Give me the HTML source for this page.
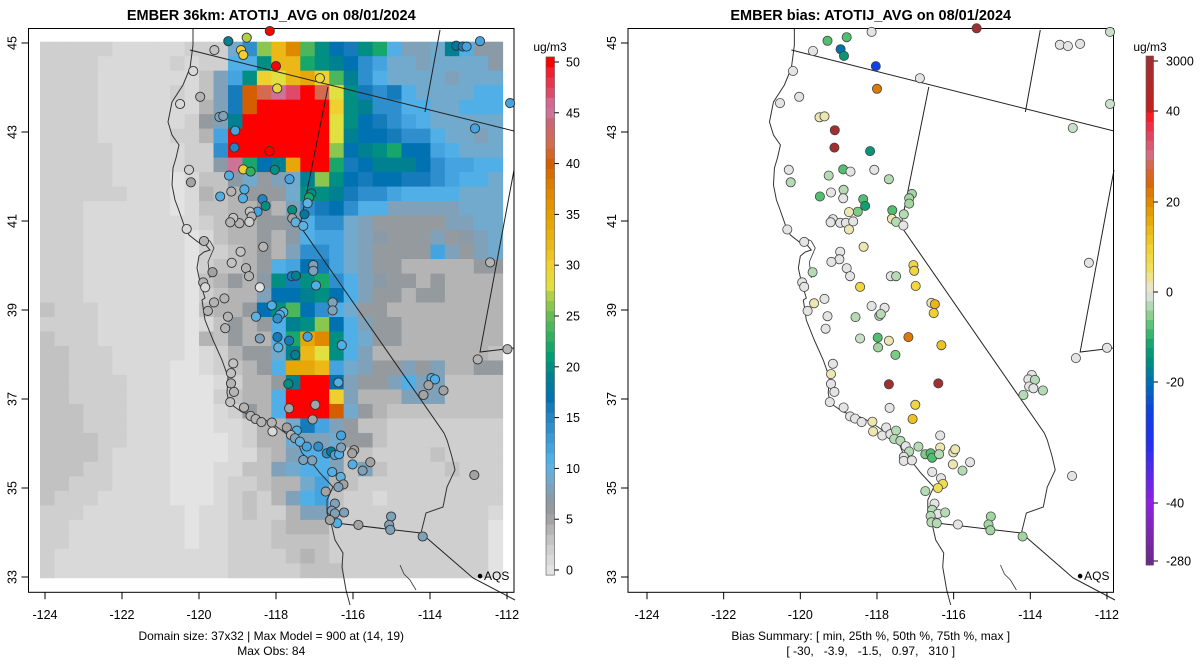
<!DOCTYPE html>
<html><head><meta charset="utf-8"><style>
body{margin:0;background:#fff;}
svg{display:block;font-family:"Liberation Sans",Arial,sans-serif;}
text{white-space:pre;}
</style></head><body>
<svg id="fig" width="1200" height="672" viewBox="0 0 1200 672" xmlns="http://www.w3.org/2000/svg">
<defs>
<g id="geo">
<path d="M193,28 L193,45 L190,68 L183,85 L172,102 L168,122 L172,135 L179,145 L176,158 L173,168 L172,185 L175,200 L178,208 L184,225 L189,235 L198,242 L205,244 L210,250 L204,252 L199,256 L197,268 L200,282 L205,298 L202,300 L205,320 L213,340 L222,360 L228,377 L227,393 L229,403 L242,412 L262,418 L277,427 L288,435 L298,443 L302,453 L312,463 L320,473 L333,487 L327,500 L327,513 L332,527 L335,540 L343,553 L342,567 L346,590 L350,605" fill="none" stroke="#333" stroke-width="1"/>
<path d="M199,244 L204,238 L210,241 L214,248 L208,262 L210,278" fill="none" stroke="#333" stroke-width="0.8"/>
<path d="M190,50 L514,131" fill="none" stroke="#222" stroke-width="1"/>
<path d="M328,87 L300,226 L444,433" fill="none" stroke="#222" stroke-width="1"/>
<path d="M440,30 L425,112" fill="none" stroke="#222" stroke-width="1"/>
<path d="M514,170 L480,352 L514,348" fill="none" stroke="#222" stroke-width="1"/>
<path d="M327,522 L421,533 L473,578 L515,600" fill="none" stroke="#222" stroke-width="1"/>
<path d="M421,533 L426,513 L443,507 L447,487 L455,470 L452,457 L447,440 L444,433" fill="none" stroke="#333" stroke-width="1"/>
<path d="M400,565 L404,574 L410,580 L416,590" fill="none" stroke="#333" stroke-width="0.8"/>
</g>
</defs>
<g id="left"></g>
<g id="right"></g>
</svg>
<script>
// ---------------- DATA ----------------
const gridCodes = "0123456789abcdefghijklmnopqrs";
const gridCodeValues = [0.3,1.3,2.3,3.3,4.3,5.5,6.5,7.5,9,10.5,12,14,15.5,17,18.5,20,22,23.5,26,28,30,32,34,37,40,42,45,47,50];
const gridRows = [
"22222"+"11111"+"222"+"8bilnhfdcfg9778e966",
"2222"+"11111"+"2"+"1"+"22"+"99fllgfedba88788886",
"2222"+"111111"+"1"+"3"+"7"+"afkjlmkheb988887888",
"2222"+"11111"+"2"+"1"+"3"+"7"+"copqrspjfcbc9888899",
"2222"+"1111111"+"4"+"7"+"cossssskfebb9988999",
"2222"+"111111"+"2"+"5"+"7"+"essssssjfdcba988888",
"2222"+"11111"+"22"+"4"+"a"+"sssssssjeddcbb98878",
"22222"+"11111"+"22"+"b"+"sssssssidefgdda9888",
"22222"+"11111"+"22"+"6"+"qgdemssgcdeeedbaa99",
"22222"+"1111"+"0"+"1"+"33"+"68578eifdcddccba998",
"222222"+"111"+"0"+"1"+"4"+"3"+"45558ffecbba9999888",
"222"+"111111"+"0"+"1"+"33"+"44547bcdb9977777888",
"222"+"1111111"+"1"+"2"+"3"+"445569bb87555557788",
"222"+"1111111"+"0"+"1"+"3"+"445469aa87655575678",
"222"+"1111111"+"0"+"22"+"34547bba875555a7578",
"222"+"1111111"+"0"+"2"+"3"+"3459adca87554444455",
"222"+"1111111"+"0"+"3"+"4"+"546fcfgb97655454444",
"222"+"1111111"+"0"+"2"+"3"+"447ddefd97554554444",
"3"+"222"+"111111"+"0"+"3"+"4"+"45dfhdb985544444444",
"2222"+"111111"+"0"+"1"+"3"+"5459efid97554444444",
"3"+"222"+"111111"+"0"+"4"+"3"+"5449gmnf98554444444",
"33"+"222"+"11111"+"0"+"1"+"2"+"4558eljf97444444443",
"33"+"222"+"1111"+"00"+"1"+"2"+"3459mmla87557574455",
"33"+"2222"+"111"+"000"+"1"+"2445essd75579773333",
"33"+"2222"+"111"+"000"+"2"+"3449sssk74447773333",
"333"+"222"+"111"+"000"+"1"+"2549ssso85433333333",
"333"+"222"+"111"+"000"+"1"+"12448ca753322222222",
"3333"+"22"+"111"+"000"+"0"+"1244877855322222222",
"3333"+"2"+"1111"+"000"+"0"+"1134799733222232222",
"333"+"22"+"1111"+"000"+"1"+"1337899737322223222",
"33"+"222"+"1111"+"000"+"1"+"223448a432222222222",
"3"+"222"+"11111"+"000"+"1"+"232479a322122222222",
"222"+"1111111"+"011"+"2322477322222222221",
"22"+"11111111"+"011"+"2223444222222222220",
"22"+"11111111"+"011"+"2223333222222222220",
"2"+"111111111"+"111"+"2222343222222222220",
"2"+"111111111"+"111"+"2222233322222222220"
];
const lonTicks = [-124,-122,-120,-118,-116,-114,-112];
const latTicks = [45,43,41,39,37,35,33];
const obsBarTicks = [0,5,10,15,20,25,30,35,40,45,50];
const biasBarTicks = [-280,-40,-20,0,20,40,3000];

const obsLon = [-119.24,-118.76,-118.91,-118.85,-119.60,-120.15,-118.0,-116.86,-117.97,-119.97,-119.47,-119.37,-119.06,-119.08,-118.17,-120.26,-120.21,-118.85,-118.66,-118.03,-119.22,-117.65,-118.82,-119.16,-119.45,-118.86,-118.35,-118.27,-118.48,-118.68,-118.63,-118.69,-118.95,-119.11,-119.19,-117.08,-117.14,-117.18,-117.58,-117.26,-117.58,-117.49,-117.29,-120.32,-119.87,-118.33,-118.92,-119.15,-118.78,-118.70,-119.65,-119.89,-118.42,-117.03,-117.03,-117.59,-117.48,-116.96,-119.61,-119.34,-118.11,-116.53,-116.53,-117.81,-112.44,-112.83,-112.70,-113.32,-113.15,-113.05,-111.92,-117.90,-117.96,-118.52,-119.25,-119.32,-119.77,-118.42,-117.96,-117.94,-117.66,-117.18,-117.50,-116.29,-119.11,-119.17,-119.17,-119.09,-119.19,-117.68,-116.38,-117.66,-116.98,-117.05,-118.83,-118.66,-118.53,-118.38,-118.09,-118.11,-117.72,-117.46,-117.61,-117.51,-117.38,-117.20,-116.90,-116.68,-116.57,-116.47,-116.36,-116.31,-116.31,-115.97,-116.02,-117.29,-117.06,-116.01,-115.55,-115.75,-116.54,-116.32,-116.25,-116.38,-116.71,-116.47,-116.55,-116.47,-116.23,-116.41,-116.60,-115.86,-115.01,-115.06,-115.03,-114.19,-113.96,-113.87,-114.04,-113.65,-114.17,-112.76,-112.85,-111.99,-120.49,-119.84,-118.16];
const obsLat = [45.04,45.12,44.84,44.73,44.84,44.37,44.48,44.21,43.98,43.79,43.34,43.36,43.03,42.65,42.57,42.15,41.87,42.16,42.11,42.15,42.02,41.94,41.71,41.66,41.55,41.51,41.49,41.34,41.21,41.21,41.10,40.98,40.95,41.07,40.97,41.62,41.53,41.40,41.25,41.15,41.06,40.97,40.89,40.82,40.55,40.42,40.31,40.06,39.94,39.76,39.85,39.62,39.51,40.01,39.88,39.76,39.77,39.55,39.17,39.26,39.10,39.17,38.99,38.95,40.07,43.08,45.04,44.94,44.92,44.92,43.65,38.89,38.81,38.85,38.85,38.59,38.98,38.36,38.39,38.16,38.31,38.40,37.99,38.21,37.80,37.58,37.35,37.16,36.93,37.34,37.37,36.79,36.87,36.54,36.81,36.62,36.55,36.48,36.27,36.47,36.36,36.29,36.19,36.12,36.04,35.93,35.93,35.78,35.82,35.74,35.76,36.18,35.91,35.85,35.78,35.63,35.62,35.53,35.58,35.39,35.36,35.25,35.08,35.02,34.92,34.65,34.49,34.43,34.45,34.21,34.28,34.17,34.36,34.17,34.06,33.91,37.47,37.44,37.31,37.19,37.09,37.89,35.29,38.12,43.63,39.51,45.27];
const obsVal = [19,27,30,30,3,1,50,29,29,4,8,8,12,15,50,2,5,30,23,20,11,12,11,4,11,11,15,20,12,3,4,2,4,3,4,20,22,10,20,18,5,10,10,1,4,4,3,3,4,4,5,4,0,8,8,16,19,11,4,4,11,8,8,10,4,12,12,18,16,12,12,11,14,10,4,4,4,8,16,10,16,12,19,11,3,3,4,4,3,20,11,5,5,5,4,4,4,4,1,4,5,11,4,8,10,12,14,14,18,12,11,12,8,5,5,8,8,11,5,8,11,10,5,8,5,8,8,8,8,11,5,5,8,8,8,8,11,11,5,5,5,4,5,4,1,1,50];

const biasLon = [-119.29,-118.79,-118.14,-115.40,-119.67,-118.95,-118.86,-118.03,-116.88,-120.19,-118.0,-120.03,-120.53,-119.5,-119.37,-119.10,-119.11,-118.18,-120.30,-120.25,-119.26,-118.88,-118.69,-118.07,-117.69,-119.49,-119.2,-118.87,-118.88,-118.36,-118.31,-118.50,-118.73,-119.15,-119.21,-118.96,-118.81,-118.62,-118.73,-117.09,-117.16,-117.16,-117.60,-117.61,-117.50,-117.30,-117.31,-120.34,-119.90,-118.96,-118.98,-119.19,-118.35,-119.68,-118.79,-118.70,-117.64,-117.50,-117.05,-117.03,-118.44,-116.99,-119.95,-119.90,-119.37,-119.64,-118.14,-117.80,-116.58,-116.49,-119.81,-119.29,-118.56,-117.94,-117.90,-119.34,-118.44,-117.98,-117.97,-117.69,-117.18,-117.52,-116.52,-116.32,-119.15,-119.20,-119.20,-119.11,-117.69,-116.40,-119.23,-118.87,-117.67,-117.0,-117.07,-118.70,-118.57,-118.40,-118.12,-118.10,-117.86,-117.76,-117.65,-117.50,-117.55,-117.39,-117.25,-117.16,-117.30,-117.30,-117.09,-116.92,-116.35,-116.35,-116.74,-116.60,-116.56,-116.38,-116.01,-115.96,-116.02,-115.77,-115.57,-116.56,-116.33,-116.28,-116.41,-116.74,-116.50,-116.56,-116.41,-116.22,-116.60,-116.58,-116.44,-115.89,-115.03,-115.09,-115.04,-114.20,-113.96,-114.05,-113.88,-114.03,-113.92,-113.67,-114.18,-113.23,-113.02,-112.70,-111.92,-112.89,-111.92,-112.47,-112.0,-112.81,-112.91];
const biasLat = [45.05,45.13,45.25,45.33,44.82,44.86,44.71,44.48,44.21,44.37,43.97,43.79,43.65,43.33,43.35,43.04,42.65,42.57,42.15,41.87,42.02,42.16,42.11,42.15,41.94,41.55,41.64,41.70,41.51,41.49,41.34,41.21,41.20,41.04,40.97,40.96,40.96,40.99,40.81,41.61,41.51,41.39,41.24,41.05,40.98,41.15,40.90,40.81,40.53,40.31,40.14,40.08,40.42,39.85,39.94,39.76,39.76,39.76,40.01,39.88,39.52,39.54,39.62,39.52,39.25,39.15,39.09,39.05,39.16,39.13,38.98,38.86,38.84,38.87,38.91,38.58,38.36,38.38,38.16,38.31,38.39,37.99,38.93,38.21,37.79,37.56,37.34,37.16,37.33,37.35,36.93,36.81,36.80,36.87,36.55,36.61,36.56,36.48,36.49,36.27,36.18,36.36,36.21,36.29,36.10,36.06,35.94,35.82,35.70,35.61,35.62,35.93,36.18,35.91,35.76,35.78,35.68,35.76,35.80,35.87,35.53,35.39,35.58,35.36,35.22,35.09,35.0,34.93,34.65,34.51,34.42,34.45,34.37,34.23,34.21,34.18,34.36,34.18,34.05,33.91,37.54,37.44,37.43,37.28,37.24,37.19,37.09,44.96,44.93,44.98,45.25,43.09,43.63,40.06,38.15,37.92,35.27];
const biasVal = [-8,-8,0,3000,0,-20,-14,-25,0,0,22,0,0,2,2,3000,3000,-14,0,-3,-3,-8,0,0,-3,-8,0,-3,0,-8,-12,-6,2,0,0,0,0,0,2,-4,-4,-4,-8,2,-3,-3,0,0,0,0,0,0,2,-3,0,0,0,-3,8,8,8,8,0,0,0,2,0,0,2,14,0,0,-3,-3,-3,0,-2,-8,-4,2,22,-6,10,12,0,2,0,0,3000,3000,0,0,0,8,12,0,0,0,2,2,0,0,0,-3,-3,-3,0,-3,0,0,0,-3,0,2,-6,-8,-8,-3,2,2,2,-3,0,0,0,6,6,-3,0,-3,0,-3,-3,-3,-3,0,-4,-4,-4,-4,0,0,-3,0,0,-3,-3,0,0,0,-2,-2,-2,0,0,0,0];

// ---------------- SCALES ----------------
const obsStops = [[0,"#e3e3e3"],[2,"#cfcfcf"],[4,"#b4b4b4"],[5.5,"#9a9a9a"],[7,"#8a9aa6"],[8.5,"#7aa6c4"],[10.5,"#56b4e9"],[13,"#3a9ad8"],[15.5,"#1f7fc0"],[17,"#0072b2"],[19,"#008090"],[21,"#009e73"],[23,"#30b060"],[25,"#66bb55"],[27,"#b0d048"],[28,"#e0e040"],[30,"#f0d030"],[32,"#ebb818"],[35,"#e69f00"],[38,"#dd7d00"],[40,"#d55e00"],[42,"#d46a50"],[44,"#cc6677"],[45.5,"#cc79a7"],[47,"#e04a6a"],[49,"#f02030"],[50,"#ff0000"]];
const biasStops = [[-280,"#6a2a8a"],[-40,"#9020e0"],[-30,"#2030f0"],[-25,"#1040e0"],[-20,"#0070b0"],[-15,"#00907a"],[-12,"#10a070"],[-8,"#50c070"],[-5,"#90d090"],[-2,"#c8e0c8"],[0,"#e4e4e4"],[2,"#ece6b0"],[5,"#f0e060"],[10,"#f0d030"],[15,"#e8b010"],[20,"#e08a00"],[25,"#d86010"],[30,"#d07080"],[35,"#e04060"],[40,"#ff1010"],[100,"#c02020"],[3000,"#a03030"]];
function hex(h){return [1,3,5].map(i=>parseInt(h.substr(i,2),16));}
function interp(stops,v){
  if(v<=stops[0][0]) return stops[0][1];
  for(let i=1;i<stops.length;i++){
    if(v<=stops[i][0]){
      const t=(v-stops[i-1][0])/(stops[i][0]-stops[i-1][0]);
      const a=hex(stops[i-1][1]),b=hex(stops[i][1]);
      return "rgb("+a.map((x,k)=>Math.round(x+(b[k]-x)*t)).join(",")+")";
    }
  }
  return stops[stops.length-1][1];
}
const LEFT={x0:45,pxPerLon:38.5,box:[28.5,28.5,514,592.3]};
const RIGHT={x0:647,pxPerLon:38.33,box:[628,28.5,1113.5,592.3]};
function xScale(P,lon){return P.x0+(lon+124)*P.pxPerLon;}
function yScale(lat){return 43+(45-lat)*44.5;}
const cellW=14.46, cellH=14.49, gridX0=40, gridY0=41.7;
function cellX(c){return gridX0+c*cellW;}
function cellY(r){return gridY0+r*cellH;}
const obsBarY = v => 570 - v*10.16;
const biasKnotY = [561,503,382,292,202,111,61];
function biasBarY(v){
  for(let i=1;i<biasBarTicks.length;i++){
    if(v<=biasBarTicks[i]){const t=(v-biasBarTicks[i-1])/(biasBarTicks[i]-biasBarTicks[i-1]);return biasKnotY[i-1]+(biasKnotY[i]-biasKnotY[i-1])*t;}
  }
  return biasKnotY[biasKnotY.length-1];
}
function biasFromY(y){
  for(let i=1;i<biasKnotY.length;i++){
    if(y>=biasKnotY[i]){const t=(biasKnotY[i-1]-y)/(biasKnotY[i-1]-biasKnotY[i]);return biasBarTicks[i-1]+(biasBarTicks[i]-biasBarTicks[i-1])*t;}
  }
  return biasBarTicks[biasBarTicks.length-1];
}

// ---------------- DRAW ----------------
const NS="http://www.w3.org/2000/svg";
function mk(tag,attrs,parent){const e=document.createElementNS(NS,tag);for(const k in attrs)e.setAttribute(k,attrs[k]);parent.appendChild(e);return e;}
function txt(parent,x,y,s,size,anchor,extra){const t=mk("text",Object.assign({x:x,y:y,"font-size":size,"text-anchor":anchor||"middle",fill:"#000"},extra||{}),parent);t.textContent=s;return t;}

function drawPanel(g,P,title,foot1,foot2){
  const [bx0,by0,bx1,by1]=P.box, cx=(bx0+bx1)/2;
  const t=txt(g,cx,20,title,14.5,"middle",{"font-weight":"bold"});
  
  
  const ax=mk("g",{},g);
  
  
  lonTicks.forEach(l=>{const x=xScale(P,l);mk("line",{x1:x,x2:x,y1:by1,y2:by1+7,stroke:"#000","stroke-width":1},ax);const tl=txt(ax,x,619,String(l),12.5);
    
    });
  const ay=mk("g",{},g);
  
  
  latTicks.forEach(l=>{const y=yScale(l);mk("line",{x1:bx0-7,x2:bx0,y1:y,y2:y,stroke:"#000","stroke-width":1},ay);const tl=txt(ay,bx0-12,y,String(l),12.5,"middle",{transform:"rotate(-90 "+(bx0-12)+" "+y+")"});
    
    });
  const f1=txt(g,cx,640,foot1,12);
  
  
  const f2=txt(g,cx,655,foot2,12);
  
  
}

const L=document.getElementById("left"), R=document.getElementById("right");
const grid=mk("g",{},L);


gridRows.forEach((row,r)=>{
  for(let c=0;c<32;c++){
    const ch=row[c]||"2";
    const v=gridCodeValues[gridCodes.indexOf(ch)];
    const cell=mk("rect",{x:cellX(c).toFixed(2),y:cellY(r).toFixed(2),width:(cellW+0.4).toFixed(2),height:(cellH+0.4).toFixed(2),fill:interp(obsStops,Math.round(v))},grid);
    
    
  }
});
const geoL=mk("use",{href:"#geo"},L);


const geoR=mk("use",{href:"#geo",transform:"translate(647,0) scale(0.9957,1) translate(-45,0)"},R);



[[L,LEFT],[R,RIGHT]].forEach(([g,P])=>{const b=P.box;const fr=mk("rect",{x:b[0],y:b[1],width:b[2]-b[0],height:b[3]-b[1],fill:"none",stroke:"#000","stroke-width":1},g);
  
  });

const op=mk("g",{},L);


obsVal.forEach((v,i)=>{
  const c=mk("circle",{cx:xScale(LEFT,obsLon[i]).toFixed(1),cy:yScale(obsLat[i]).toFixed(1),r:4.6,fill:interp(obsStops,v),stroke:"#333","stroke-width":0.9},op);
  
  
});
const bp=mk("g",{},R);


biasVal.forEach((v,i)=>{
  const c=mk("circle",{cx:xScale(RIGHT,biasLon[i]).toFixed(1),cy:yScale(biasLat[i]).toFixed(1),r:4.6,fill:interp(biasStops,v),stroke:"#444","stroke-width":0.8},bp);
  
  
});

[[L,LEFT],[R,RIGHT]].forEach(([g,P])=>{
  const x=xScale(P,-112.7), y=yScale(33.02);
  const d=mk("circle",{cx:x,cy:y,r:2.3,fill:"#000"},g);
  
  
  const t=txt(g,x+4,y+4,"AQS",12,"start");
  
  
});

drawPanel(L,LEFT,"EMBER 36km: ATOTIJ_AVG on 08/01/2024","Domain size: 37x32 | Max Model = 900 at (14, 19)","Max Obs: 84");
drawPanel(R,RIGHT,"EMBER bias: ATOTIJ_AVG on 08/01/2024","Bias Summary: [ min, 25th %, 50th %, 75th %, max ]","[ -30,   -3.9,   -1.5,   0.97,   310 ]");

const cb=mk("g",{},L);


for(let v=0;v<=50;v++){
  const y=obsBarY(v)-5.08;
  const s=mk("rect",{x:546,y:y.toFixed(2),width:8.5,height:10.5,fill:interp(obsStops,v)},cb);
  
  
}
mk("rect",{x:546,y:obsBarY(50)-5.08,width:8.5,height:obsBarY(0)-obsBarY(50)+10.16,fill:"none",stroke:"#555","stroke-width":0.6},cb);
obsBarTicks.forEach(v=>{const y=obsBarY(v);mk("line",{x1:554.5,x2:559,y1:y,y2:y,stroke:"#000"},cb);const t=txt(cb,566,y+4.5,String(v),12.5,"start");
  
  });
const u1=txt(cb,550,51,"ug/m3",12);



const cb2=mk("g",{},R);


const nb=54, yTop=56, yBot=565, bh=(yBot-yTop)/nb;
for(let i=0;i<nb;i++){
  const y=yTop+i*bh;
  const s=mk("rect",{x:1146,y:y.toFixed(2),width:7.5,height:(bh+0.4).toFixed(2),fill:interp(biasStops,biasFromY(y+bh/2))},cb2);
  
  
}
mk("rect",{x:1146,y:yTop,width:7.5,height:yBot-yTop,fill:"none",stroke:"#555","stroke-width":0.6},cb2);
biasBarTicks.forEach(v=>{const y=biasBarY(v);mk("line",{x1:1153.5,x2:1158,y1:y,y2:y,stroke:"#000"},cb2);const t=txt(cb2,1166,y+4.5,String(v),12.5,"start");
  
  });
const u2=txt(cb2,1150,51,"ug/m3",12);


</script>
</body></html>
